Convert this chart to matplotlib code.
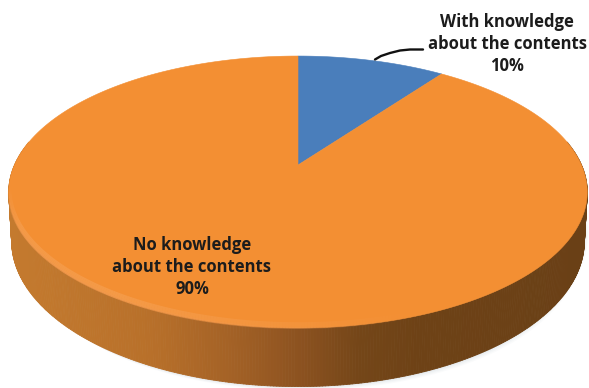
import numpy as np
import matplotlib
matplotlib.use("Agg")
import matplotlib.pyplot as plt
from matplotlib.patches import Polygon
from matplotlib.collections import PolyCollection, LineCollection

labels = ["With knowledge\nabout the contents\n10%", "No knowledge\nabout the contents\n90%"]
values = [10, 90]
colors = ["#4a7ebb", "#f38f33"]

W, H = 589, 388
fig = plt.figure(figsize=(W / 100, H / 100), dpi=100)
ax = fig.add_axes([0, 0, 1, 1])
ax.set_xlim(0, W)
ax.set_ylim(H, 0)
ax.axis("off")

CX, CY, A, B, K = 298, 165, 283.5, 130.6, 0.1985
DROP = 47
SHRINK = 0.99


def project(t):
    u, v = np.sin(t), np.cos(t)
    w = 1 + K * v
    return CX + A * u / w, CY - B * v / w, DROP / w


angles = np.cumsum([0] + values) / sum(values) * 2 * np.pi
T = np.linspace(0, 2 * np.pi, 721)
X, Y, D = project(T)
BX = CX + (X - CX) * SHRINK
front = np.where((T > np.pi * 0.44) & (T < np.pi * 1.56))[0]

# soft shadow under the disc
for off, al in zip([8, 6, 4, 2], [0.04, 0.05, 0.06, 0.07]):
    ax.add_patch(Polygon(np.c_[BX[front] + off * 0.5, Y[front] + D[front] + off * 0.5 - 12 * (np.abs(X[front] - CX) / 290) ** 8],
                         closed=True, fc="#8b9bb0", ec="none", alpha=al, zorder=1))

# side wall, shaded by horizontal position
sx = np.array([8, 60, 150, 230, 300, 360, 420, 590])
sr = np.array([0xc4, 0xc0, 0xb8, 0xa4, 0x8c, 0x74, 0x6e, 0x6a]) / 255
sg = np.array([0x7a, 0x77, 0x70, 0x62, 0x52, 0x46, 0x42, 0x40]) / 255
sb = np.array([0x2e, 0x2d, 0x2a, 0x26, 0x20, 0x18, 0x16, 0x16]) / 255
quads, cols = [], []
for i in front[:-1]:
    quads.append([(X[i], Y[i]), (X[i + 1], Y[i + 1]),
                  (BX[i + 1], Y[i + 1] + D[i + 1]), (BX[i], Y[i] + D[i])])
    xm = (X[i] + X[i + 1]) / 2
    cols.append((np.interp(xm, sx, sr), np.interp(xm, sx, sg), np.interp(xm, sx, sb)))
ax.add_collection(PolyCollection(quads, facecolors=cols, edgecolors=cols, linewidths=0.6, zorder=2))

# top slices
for a0, a1, c in zip(angles[:-1], angles[1:], colors):
    tt = np.linspace(a0, a1, 400)
    px, py, _ = project(tt)
    ax.add_patch(Polygon(np.r_[[[CX, CY]], np.c_[px, py]], closed=True, fc=c, ec=c,
                         lw=0.4, zorder=3))

# rim softening on the top face, fading towards the right and the far edge
top_clip = Polygon(np.c_[X, Y], closed=True, transform=ax.transData)
fx, fy = X[front], Y[front]
segs = [[(fx[i], fy[i]), (fx[i + 1], fy[i + 1])] for i in range(len(fx) - 1)]
fade = np.clip((420 - fx[:-1]) / 300, 0, 1) * np.clip((fy[:-1] - 190) / 40, 0, 1)
outer = [(0.95, 0.60, 0.30, 0.8 * a) for a in fade]
inner = [(0.97, 0.66, 0.38, 0.45 * a) for a in fade]
segs_in = [[(x, y - 3) for x, y in s] for s in segs]
band = LineCollection(segs_in, colors=inner, linewidths=4, zorder=4, capstyle="butt")
edge = LineCollection(segs, colors=outer, linewidths=1.5, zorder=4, capstyle="butt")
ax.add_collection(band)
ax.add_collection(edge)
band.set_clip_path(top_clip)

# labels
font = dict(family=["Open Sans", "DejaVu Sans"], fontweight="bold", fontsize=12,
            color="#1c1c1c", ha="center", va="center", linespacing=1.26, zorder=6)
ax.text(507, 44, labels[0], **font)
ax.text(192, 267, labels[1], **font)

# leader line
lx = np.array([375, 381, 390, 400, 410, 423])
ly = np.array([59.5, 56, 53, 50.5, 49.5, 49.5])
ax.plot(lx, ly, color="#111111", lw=1.7, solid_capstyle="round", zorder=6)

fig.savefig("out.png", dpi=100, facecolor="white")
